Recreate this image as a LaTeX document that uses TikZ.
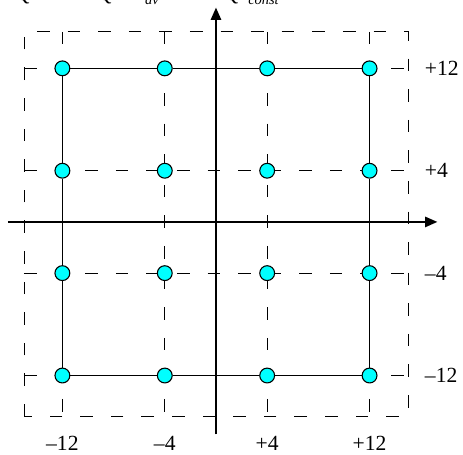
\documentclass[tikz,border=0pt]{standalone}
\usepackage{fontspec}
\setmainfont{Liberation Serif}
\usetikzlibrary{arrows.meta}
\definecolor{ptcyan}{RGB}{0,255,255}
\begin{document}
\begin{tikzpicture}[x=0.25cm,y=0.25cm,
    pt/.style={circle,draw=black,fill=ptcyan,line width=0.6pt,inner sep=0pt,minimum size=0.29cm},
    grd/.style={line width=0.5pt,dash pattern=on 7pt off 10pt},
    axs/.style={line width=1.1pt,-{Triangle[length=0.24cm,width=0.2cm]}},
    every node/.style={font=\fontsize{12}{14}\selectfont,inner sep=0pt}]
  \useasboundingbox (-16.875,-18.2) rectangle (19.3,17.34);
  % formula above, cut off by the page edge
  \node[anchor=base] (q1) at (-15,17.27) {\textit{Q}};
  \node[anchor=base] (q2) at (-8.6,17.27) {\textit{Q}};
  \node[anchor=base,font=\fontsize{8}{9}\selectfont] (av) at (-5,17.0) {\textit{av}};
  \node[anchor=base] (q3) at (1.3,17.27) {\textit{Q}};
  \node[anchor=base west,font=\fontsize{8}{9}\selectfont] (cst) at (2.5,17.0) {\textit{const}};
  % dashed frame and grid lines
  \draw[grd] (-15,-15.2) rectangle (15,14.85);
  \foreach \v in {-12,-4,4,12}{
    \draw[grd] (\v,14.85) -- (\v,-15.2);
    \draw[grd] (-15,\v) -- (15,\v);
  }
  % axes
  \coordinate (xl) at (-16.25,0);
  \coordinate (xr) at (17.3,0);
  \coordinate (yb) at (0,-16.6);
  \coordinate (yt) at (0,16.75);
  \draw[axs] (xl) -- (xr);
  \draw[axs] (yb) -- (yt);
  % points of the grid
  \foreach \v/\n in {-12/a,-4/b,4/c,12/d}{
    \foreach \w/\m in {-12/1,-4/2,4/3,12/4}
      \node[pt] (\n\m) at (\v,\w) {};
  }
  \draw[line width=0.6pt] (a4) -- (b4) -- (c4) -- (d4) -- (d3) -- (d2) -- (d1)
    -- (c1) -- (b1) -- (a1) -- (a2) -- (a3) -- (a4);
  % tick values
  \foreach \v/\t/\n in {-12/–12/1,-4/–4/2,4/+4/3,12/+12/4}{
    \node[anchor=west] (r\n) at (16.3,\v) {\t};
    \node (b\n) at (\v,-17.3) {\t};
  }
\end{tikzpicture}
\end{document}
